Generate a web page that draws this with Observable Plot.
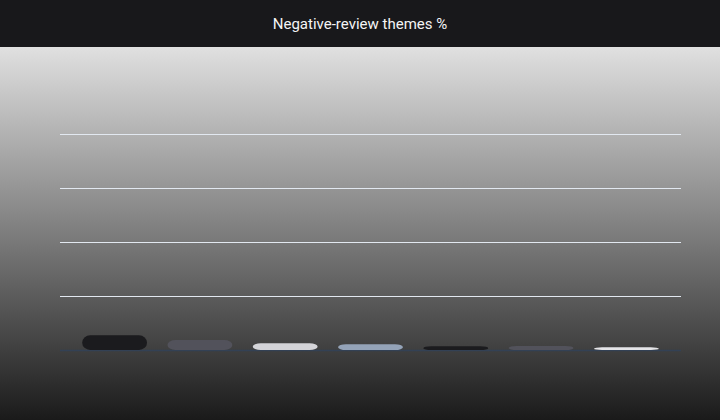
<!DOCTYPE html>
<html>
<head>
<meta charset="utf-8">
<script src="https://cdn.jsdelivr.net/npm/d3@7"></script>
<script src="https://cdn.jsdelivr.net/npm/@observablehq/plot@0.6"></script>
<style>
  html, body { margin: 0; padding: 0; background: #18181b; }
  #wrap { width: 720px; height: 420px; overflow: hidden; }
  #title {
    height: 47px; box-sizing: border-box; padding-top: 2px; line-height: 45px; background: #18181b; color: #f4f4f5;
    font-family: Roboto, "Liberation Sans", Arial, sans-serif; font-size: 15px; text-align: center;
  }
  #chart { height: 373px; background: linear-gradient(to bottom, #e0e0e0, #1a1a1a); }
  #chart svg { display: block; background: transparent; }
</style>
</head>
<body>
<div id="wrap">
  <div id="title">Negative-review themes %</div>
  <div id="chart"></div>
</div>
<script>
const categories = ["Shipping delays", "Product quality", "Customer service", "Sizing", "Packaging", "Pricing", "Returns"];
const shares = [2.72, 1.85, 1.24, 1.06, 0.69, 0.74, 0.5];
const palette = ["#1b1b1e", "#52525b", "#d4d4d8", "#94a3b8", "#1b1b1e", "#52525b", "#e4e4e7"];
const gridTicks = [10, 20, 30, 40];

const data = categories.map((c, i) => ({category: c, share: shares[i], color: palette[i]}));

const chart = Plot.plot({
  width: 720,
  height: 373,
  marginLeft: 60,
  marginRight: 39,
  marginTop: 33,
  marginBottom: 70,
  style: {background: "transparent", fontFamily: "Roboto, sans-serif"},
  x: {domain: categories, paddingInner: 0.24, paddingOuter: 0.26, round: false, axis: null},
  y: {domain: [0, 50], axis: null},
  marks: [
    Plot.ruleY(gridTicks, {stroke: "#e2e8f0", strokeWidth: 1}),
    Plot.ruleY([0], {stroke: "#334155", strokeWidth: 1.5}),
    Plot.barY(data, {x: "category", y: "share", fill: "color", rx: 8})
  ]
});
document.getElementById("chart").appendChild(chart);
</script>
</body>
</html>
